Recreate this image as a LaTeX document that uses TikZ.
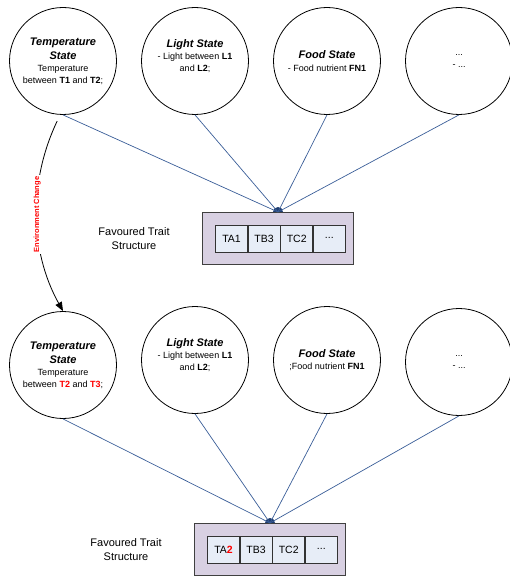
\documentclass[tikz,border=0pt]{standalone}
\usepackage{fontspec}
\setmainfont{Liberation Sans}
\usetikzlibrary{positioning,arrows.meta}
\definecolor{linkblue}{RGB}{58,94,152}
\definecolor{jointblue}{RGB}{31,61,112}
\definecolor{traitfill}{RGB}{216,208,226}
\definecolor{cellfill}{RGB}{231,237,247}
\definecolor{envred}{RGB}{255,0,0}
\newcommand{\sttitle}[1]{{\fontsize{11}{13}\selectfont\bfseries\itshape #1}}
\newcommand{\redbf}[1]{\textcolor{envred}{\textbf{#1}}}
\tikzset{
  state/.style={circle,draw,line width=0.8pt,minimum size=107pt,inner sep=0pt},
  statetext/.style={align=center,font=\fontsize{9}{11.5}\selectfont,inner sep=0pt},
  link/.style={draw=linkblue,line width=0.7pt},
  joint/.style={circle,fill=jointblue,minimum size=10pt,inner sep=0pt},
  traitbox/.style={draw=black!75,fill=traitfill,line width=0.8pt,minimum width=151pt,minimum height=52pt,inner sep=0pt},
  cell/.style={draw=black!80,fill=cellfill,line width=0.6pt,minimum width=32pt,minimum height=27pt,inner sep=0pt,font=\fontsize{10.5}{12}\selectfont},
  traitlabel/.style={align=center,font=\fontsize{11}{14}\selectfont},
  envarrow/.style={draw=black,line width=0.8pt,shorten <=7pt,-{Triangle[length=9pt,width=7pt]}},
  envtext/.style={rotate=90,fill=white,text=envred,inner sep=2pt,font=\fontsize{7.5}{8}\selectfont\bfseries}
}
\begin{document}
\begin{tikzpicture}[x=1pt,y=-1pt]
    \useasboundingbox (0,0) rectangle (510,577);

    \node[state] (tempA) at (63,61) {};
    \node[state] (lightA) at (195,61) {};
    \node[state] (foodA) at (327,61) {};
    \node[state] (moreA) at (459,61) {};
    \node[statetext] (tempAtext) at (tempA) {\sttitle{Temperature}\\[2.5pt]\sttitle{State}\\[1pt]Temperature\\between \textbf{T1} and \textbf{T2};};
    \node[statetext] (lightAtext) at ([yshift=5pt]lightA.center) {\sttitle{Light State}\\[1pt]- Light between \textbf{L1}\\and \textbf{L2};};
    \node[statetext] (foodAtext) at (foodA) {\sttitle{Food State}\\[1pt]- Food nutrient \textbf{FN1}};
    \node[statetext] (moreAtext) at (moreA) {...\\- ...};

    \node[joint] (jointA) at (278,212) {};
    \node[traitbox,anchor=north] (traitsA) at (jointA.center) {};
    \node[cell] (ta1A) at ([xshift=-46.5pt]traitsA.center) {TA1};
    \node[cell,right=0pt of ta1A] (tb3A) {TB3};
    \node[cell,right=0pt of tb3A] (tc2A) {TC2};
    \node[cell,right=0pt of tc2A] (etcA) {...};
    \node[traitlabel,left=29pt of traitsA] (labelA) {Favoured Trait\\Structure};

    \draw[link] (tempA.south) -- (jointA.center);
    \draw[link] (lightA.south) -- (jointA.center);
    \draw[link] (foodA.south) -- (jointA.center);
    \draw[link] (moreA.south) -- (jointA.center);

    \node[state] (tempB) at (63,365) {};
    \node[state] (lightB) at (195,360) {};
    \node[state] (foodB) at (327,360) {};
    \node[state] (moreB) at (459,362) {};
    \node[statetext] (tempBtext) at (tempB) {\sttitle{Temperature}\\[2.5pt]\sttitle{State}\\[1pt]Temperature\\between \redbf{T2} and \redbf{T3};};
    \node[statetext] (lightBtext) at ([yshift=5pt]lightB.center) {\sttitle{Light State}\\[1pt]- Light between \textbf{L1}\\and \textbf{L2};};
    \node[statetext] (foodBtext) at (foodB) {\sttitle{Food State}\\[1pt];Food nutrient \textbf{FN1}};
    \node[statetext] (moreBtext) at (moreB) {...\\- ...};

    \node[joint] (jointB) at (270,523) {};
    \node[traitbox,anchor=north] (traitsB) at (jointB.center) {};
    \node[cell] (ta2B) at ([xshift=-46.5pt]traitsB.center) {TA\redbf{2}};
    \node[cell,right=0pt of ta2B] (tb3B) {TB3};
    \node[cell,right=0pt of tb3B] (tc2B) {TC2};
    \node[cell,right=0pt of tc2B] (etcB) {...};
    \node[traitlabel,left=29pt of traitsB] (labelB) {Favoured Trait\\Structure};

    \draw[link] (tempB.south) -- (jointB.center);
    \draw[link] (lightB.south) -- (jointB.center);
    \draw[link] (foodB.south) -- (jointB.center);
    \draw[link] (moreB.south) -- (jointB.center);

    \draw[envarrow] (tempA.-93) .. controls (29,180) and (29,250) .. (tempB.north)
        node[envtext,pos=0.5] (envchange) {Environment Change};
\end{tikzpicture}
\end{document}
